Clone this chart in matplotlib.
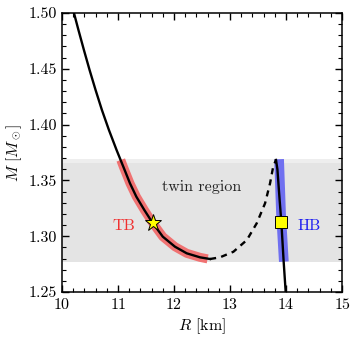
import numpy as np
import matplotlib
matplotlib.use('Agg')
import matplotlib.pyplot as plt
from matplotlib.ticker import MultipleLocator, FormatStrFormatter

plt.rcParams['font.family'] = 'serif'
plt.rcParams['font.serif'] = ['cmr10', 'DejaVu Serif']
plt.rcParams['mathtext.fontset'] = 'cm'
plt.rcParams['axes.formatter.use_mathtext'] = True
plt.rcParams['axes.unicode_minus'] = False
plt.rcParams['font.size'] = 11.5

# stable branch of twin (TB)
tb_R = [10.214, 10.294, 10.392, 10.493, 10.600, 10.713, 10.838, 10.975, 11.095, 11.214,
        11.328, 11.470, 11.585, 11.618, 11.800, 12.018, 12.227, 12.464, 12.643]
tb_M = [1.5000, 1.4848, 1.4668, 1.4489, 1.4310, 1.4131, 1.3952, 1.3772, 1.3623, 1.3474,
        1.3354, 1.3235, 1.3145, 1.3121, 1.2996, 1.2906, 1.2847, 1.2811, 1.2796]

# unstable part (dashed)
un_R = [12.643, 12.82, 13.06, 13.30, 13.476, 13.625, 13.714, 13.77, 13.82]
un_M = [1.2796, 1.2811, 1.2861, 1.2966, 1.3116, 1.3295, 1.3474, 1.3623, 1.3683]

# hadronic branch (HB)
hb_R = [13.82, 13.845, 13.885, 13.915, 13.955, 13.993]
hb_M = [1.3683, 1.3600, 1.3324, 1.3130, 1.2787, 1.2500]

# highlighted bands
tb_band_R = [11.05, 11.095, 11.214, 11.328, 11.470, 11.585, 11.618, 11.800, 12.018,
             12.227, 12.464, 12.60]
tb_band_M = [1.3683, 1.3623, 1.3474, 1.3354, 1.3235, 1.3145, 1.3121, 1.2996, 1.2906,
             1.2847, 1.2811, 1.2797]
hb_band_R = [13.875, 13.91, 13.96]
hb_band_M = [1.3690, 1.3200, 1.2772]

twin_lo, twin_hi = 1.2765, 1.369
star = (11.625, 1.3121)
square = (13.915, 1.3125)

fig = plt.figure(figsize=(3.56, 3.40), dpi=100)
ax = fig.add_axes([0.174, 0.141, 0.787, 0.821])

ax.axhspan(twin_lo, twin_hi, color='#e4e4e4', lw=0, zorder=0)
ax.axhspan(twin_hi - 0.003, twin_hi, color='#eeeeee', lw=0, zorder=0)

ax.plot(tb_band_R, tb_band_M, color='#f07272', lw=6.5, solid_capstyle='butt', zorder=1)
ax.plot(hb_band_R, hb_band_M, color='#7070f0', lw=7, solid_capstyle='butt', zorder=1)

ax.plot(tb_R, tb_M, color='k', lw=1.7, zorder=2)
ax.plot(un_R, un_M, color='k', lw=1.7, ls=(0, (2.6, 2.2)), zorder=2)
ax.plot(hb_R, hb_M, color='k', lw=1.7, zorder=2)

ax.plot(*star, marker='*', ms=12.5, mfc='yellow', mec='k', mew=0.7, zorder=3)
ax.plot(*square, marker='s', ms=8, mfc='yellow', mec='k', mew=0.7, zorder=3)

ax.text(12.5, 1.344, 'twin region', ha='center', va='center', color='#222222')
ax.text(11.1, 1.309, 'TB', ha='center', va='center', color='#f03030')
ax.text(14.42, 1.309, 'HB', ha='center', va='center', color='#2020f0')

ax.set_xlim(10, 15)
ax.set_ylim(1.25, 1.50)
ax.xaxis.set_major_locator(MultipleLocator(1))
ax.xaxis.set_minor_locator(MultipleLocator(0.2))
ax.yaxis.set_major_locator(MultipleLocator(0.05))
ax.yaxis.set_minor_locator(MultipleLocator(0.01))
ax.yaxis.set_major_formatter(FormatStrFormatter('%.2f'))
ax.tick_params(which='both', direction='in', top=True, right=True)
ax.tick_params(which='major', length=5, width=1)
ax.tick_params(which='minor', length=3, width=0.8)
for s in ax.spines.values():
    s.set_linewidth(1.1)

ax.set_xlabel(r'$R$ [km]', labelpad=3)
ax.set_ylabel(r'$M\ [M_\odot]$', labelpad=3)

fig.savefig('out.png', dpi=100)
